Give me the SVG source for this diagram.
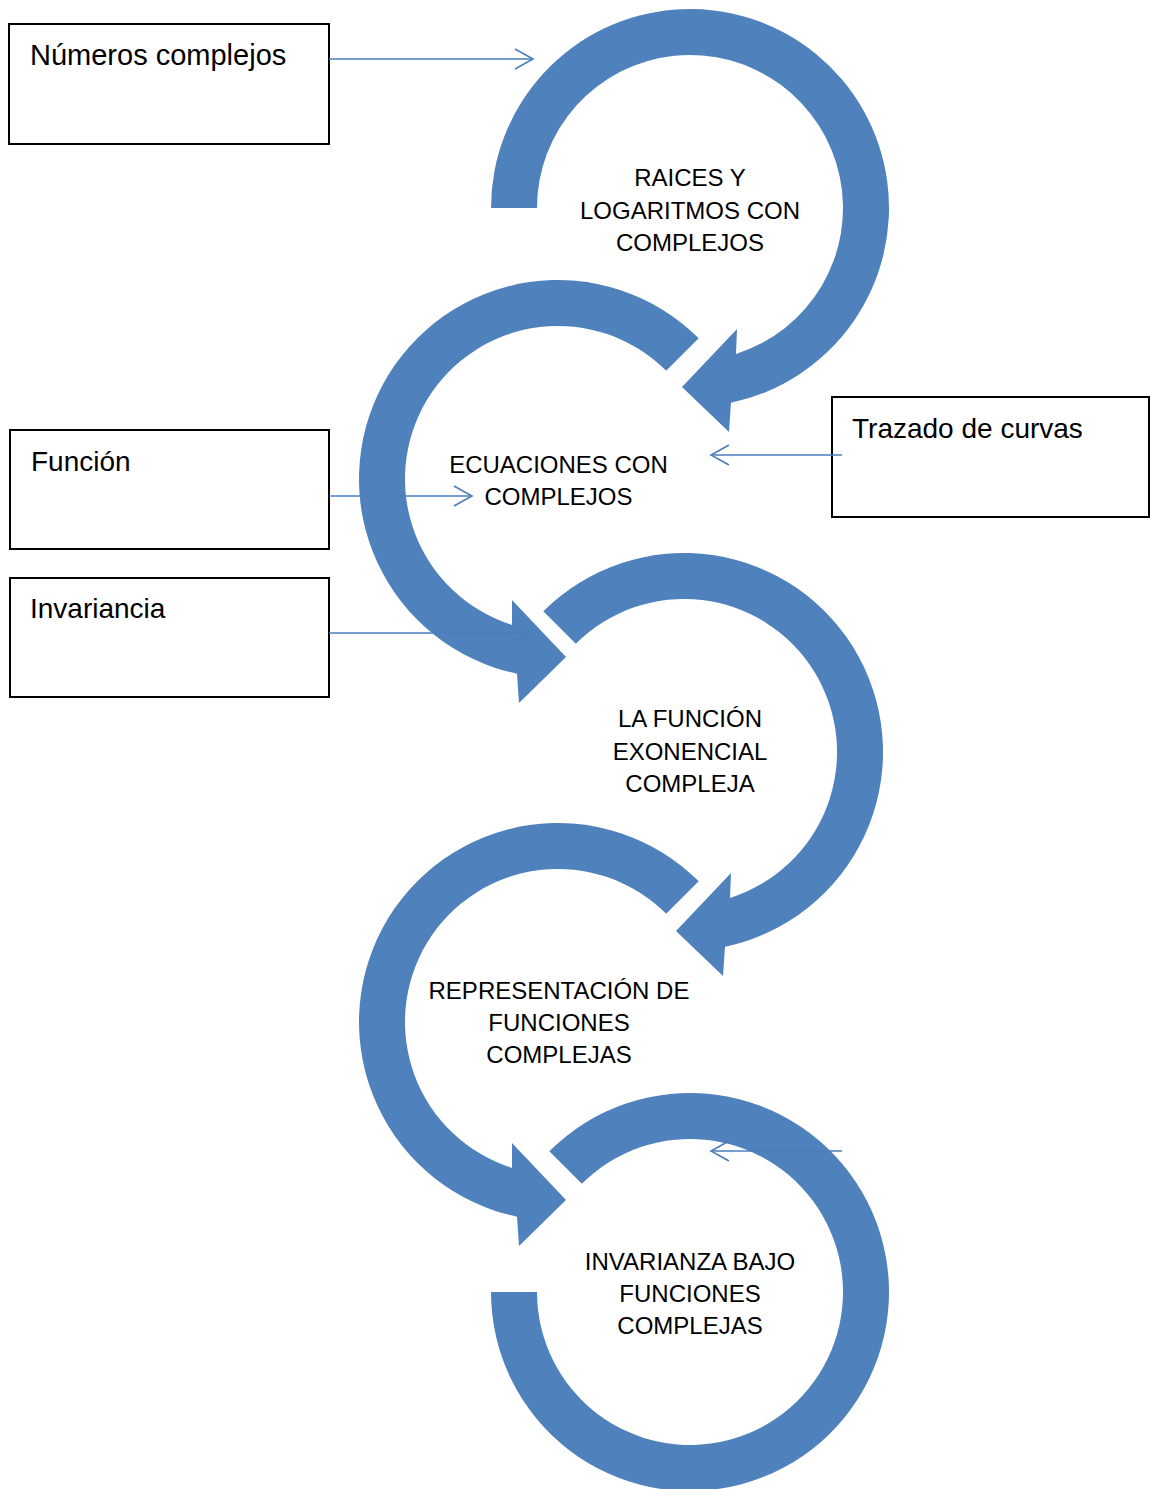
<svg xmlns="http://www.w3.org/2000/svg" width="1151" height="1489" viewBox="0 0 1151 1489">
<style>
.ring{fill:#4F81BD;stroke:none}
.lbl{font-family:"Liberation Sans",Arial,sans-serif;font-size:24px;fill:#000;text-anchor:middle}
.box rect{fill:#fff;stroke:#000;stroke-width:2}
.box text{font-family:"Liberation Sans",Arial,sans-serif;font-size:28px;fill:#000}
.con{fill:none;stroke:#4A7EBB;stroke-width:1.6}
</style>
<defs>
<marker id="chev" markerUnits="userSpaceOnUse" markerWidth="24" markerHeight="24" viewBox="-20 -12 22 24" refX="0" refY="0" orient="auto" overflow="visible">
<path d="M -18 -10 L 0 0 L -18 10" fill="none" stroke="#4A7EBB" stroke-width="1.6"/>
</marker>
</defs>
<rect width="1151" height="1489" fill="#fff"/>
<g id="node1">
<path class="ring" d="M 491 208 A 199 199 0 1 1 730.96 402.75 L 729 432 L 682 387 L 737 329 L 736 353.9 A 153 153 0 1 0 537 208 Z"/>
<text class="lbl" x="690" y="186">RAICES Y</text>
<text class="lbl" x="690" y="219">LOGARITMOS CON</text>
<text class="lbl" x="690" y="251">COMPLEJOS</text>
</g>
<g id="node2">
<path class="ring" d="M 698.71 338.29 A 199 199 0 1 0 517 673.73 L 519 703 L 566 657 L 512 600 L 512 624.9 A 153 153 0 1 1 666.19 370.81 Z"/>
<text class="lbl" x="558.5" y="473">ECUACIONES CON</text>
<text class="lbl" x="558.5" y="505">COMPLEJOS</text>
</g>
<g id="node3">
<path class="ring" d="M 543.29 611.29 A 199 199 0 1 1 725 946.73 L 723 976 L 676 931 L 731 873 L 730 897.9 A 153 153 0 1 0 575.81 643.81 Z"/>
<text class="lbl" x="690" y="727">LA FUNCIÓN</text>
<text class="lbl" x="690" y="760">EXONENCIAL</text>
<text class="lbl" x="690" y="792">COMPLEJA</text>
</g>
<g id="node4">
<path class="ring" d="M 698.71 881.29 A 199 199 0 1 0 517 1216.73 L 519 1246 L 566 1200 L 512 1143 L 512 1167.9 A 153 153 0 1 1 666.19 913.81 Z"/>
<text class="lbl" x="559" y="999">REPRESENTACIÓN DE</text>
<text class="lbl" x="559" y="1031">FUNCIONES</text>
<text class="lbl" x="559" y="1063">COMPLEJAS</text>
</g>
<g id="node5">
<path class="ring" d="M 549.29 1151.29 A 199 199 0 1 1 491 1292 L 537 1292 A 153 153 0 1 0 581.81 1183.81 Z"/>
<text class="lbl" x="690" y="1270">INVARIANZA BAJO</text>
<text class="lbl" x="690" y="1302">FUNCIONES</text>
<text class="lbl" x="690" y="1334">COMPLEJAS</text>
</g>
<g id="box-numeros" class="box">
<rect x="9" y="24" width="320" height="120"/>
<text x="30" y="65" style="font-size:29px">Números complejos</text>
</g>
<g id="box-trazado" class="box">
<rect x="832" y="397" width="317" height="120"/>
<text x="852" y="438">Trazado de curvas</text>
</g>
<g id="box-funcion" class="box">
<rect x="10" y="430" width="319" height="119"/>
<text x="31" y="471">Función</text>
</g>
<g id="box-invariancia" class="box">
<rect x="10" y="578" width="319" height="119"/>
<text x="30" y="618">Invariancia</text>
</g>
<g id="connectors">
<line class="con" x1="329" y1="59" x2="533" y2="59" marker-end="url(#chev)"/>
<line class="con" x1="842" y1="455" x2="711" y2="455" marker-end="url(#chev)"/>
<line class="con" x1="329" y1="496" x2="472" y2="496" marker-end="url(#chev)"/>
<line class="con" x1="329" y1="633" x2="530" y2="633" marker-end="url(#chev)"/>
<line class="con" x1="842" y1="1151" x2="711" y2="1151" marker-end="url(#chev)"/>
</g>
</svg>
